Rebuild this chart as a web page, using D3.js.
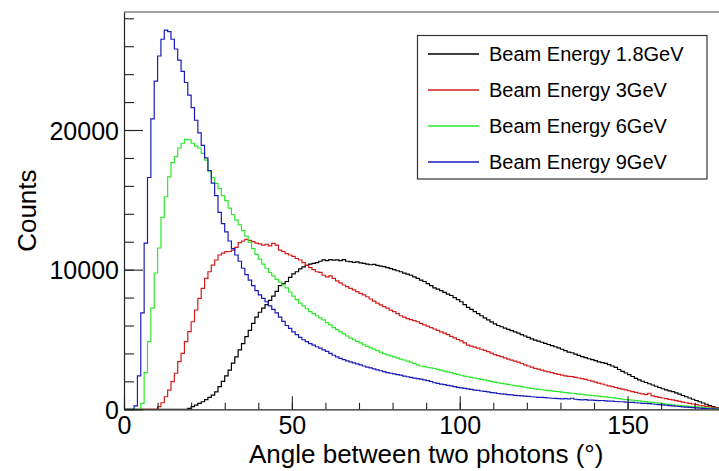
<!DOCTYPE html>
<html>
<head>
<meta charset="utf-8">
<script src="https://cdn.jsdelivr.net/npm/d3@7"></script>
<style>
  html, body { margin: 0; padding: 0; background: #fff; }
  svg { display: block; }
  text { font-family: "Liberation Sans", Arimo, Arial, Helvetica, sans-serif; fill: #000; }
</style>
</head>
<body>
<svg id="chart" width="719" height="471"></svg>
<script>
// ---- data ----
const binLow = 0, binWidth = 1;           // histogram binning (degrees)
const xDomain = [0, 180];
const yDomain = [0, 28450];
const xTicks = [0, 50, 100, 150];
const xMinorTicks = d3.range(0, 181, 10);
const yTicks = [0, 10000, 20000];
const yMinorTicks = d3.range(0, 28001, 2000);
const xTitle = "Angle between two photons (°)";
const yTitle = "Counts";
const seriesLabels = ["Beam Energy 1.8GeV", "Beam Energy 3GeV", "Beam Energy 6GeV", "Beam Energy 9GeV"];
const seriesColors = ["#000000", "#d41c1c", "#2ee82e", "#1a1ab8"];

const counts18 = [
  0,0,0,0,0,0,0,0,0,0,
  0,0,0,0,0,0,0,0,0,60,
  190,300,420,540,700,850,1020,1250,1620,2000,
  2400,2800,3300,3750,4250,4700,5200,5650,6150,6600,
  6950,7250,7500,7800,8100,8450,8850,9000,9150,9450,
  9700,9850,10050,10200,10300,10400,10450,10500,10600,10700,
  10650,10720,10680,10700,10650,10720,10600,10570,10520,10560,
  10480,10450,10400,10350,10380,10300,10250,10210,10150,10080,
  10000,9920,9850,9750,9680,9600,9480,9380,9250,9150,
  9000,8850,8700,8600,8500,8380,8250,8150,8000,7850,
  7700,7500,7300,7150,7000,6850,6700,6550,6400,6260,
  6120,6000,5910,5820,5720,5630,5550,5450,5350,5250,
  5150,5050,4960,4880,4800,4720,4640,4560,4480,4400,
  4300,4200,4100,4050,3950,3860,3770,3700,3620,3560,
  3480,3400,3340,3290,3200,3100,3000,2850,2720,2600,
  2480,2350,2220,2100,2010,1920,1830,1740,1650,1560,
  1470,1390,1320,1260,1170,1080,990,900,810,720,
  630,540,450,360,270,190,110,40,0,0
];
const counts3 = [
  0,0,0,0,0,0,0,0,0,0,
  190,470,900,1380,1980,2580,3410,4010,4840,5560,
  6270,7110,7950,8660,9380,9850,10330,10690,11050,11190,
  11290,11300,11400,11600,11930,12050,12170,12100,12000,11900,
  11850,11760,11820,11700,11880,11750,11400,11300,11150,11050,
  10950,10800,10690,10500,10300,10150,10000,9850,9800,9600,
  9480,9550,9380,9200,9050,8900,8780,8660,8550,8420,
  8300,8200,8060,7900,7750,7600,7480,7350,7250,7100,
  7000,6850,6700,6600,6500,6420,6350,6270,6150,6050,
  5950,5850,5750,5650,5550,5450,5350,5220,5120,5000,
  4900,4750,4600,4530,4450,4380,4300,4220,4130,4020,
  3920,3850,3770,3680,3600,3520,3450,3380,3280,3180,
  3100,3020,2935,2870,2800,2740,2680,2620,2560,2500,
  2450,2400,2360,2335,2280,2240,2200,2150,2080,2020,
  1950,1880,1810,1740,1680,1620,1560,1500,1440,1390,
  1330,1270,1210,1150,1100,1050,1150,960,910,860,
  810,760,710,670,620,570,520,470,420,380,
  330,290,250,210,170,140,80,20,0,0
];
const counts6 = [
  0,0,0,0,0,430,2620,4840,7250,9760,
  11550,13750,15220,16650,17660,18090,18710,19050,19330,19290,
  19050,18850,18710,18330,17850,17010,16600,16180,15800,15300,
  14950,14400,13950,13550,13200,12800,12400,11950,11500,11100,
  10750,10400,10100,9800,9550,9300,9100,8900,8700,8400,
  8100,7850,7600,7400,7200,7000,6850,6700,6550,6400,
  6200,6050,5850,5700,5550,5400,5250,5100,4980,4870,
  4750,4620,4500,4400,4300,4200,4100,3980,3900,3820,
  3750,3680,3600,3530,3450,3380,3280,3180,3100,3060,
  3010,2970,2920,2860,2800,2740,2680,2620,2560,2500,
  2440,2380,2330,2280,2240,2190,2140,2100,2050,2000,
  1950,1900,1860,1820,1780,1740,1700,1660,1620,1580,
  1540,1500,1460,1430,1400,1370,1340,1320,1290,1260,
  1230,1200,1170,1150,1120,1090,1070,1040,1010,990,
  960,940,910,890,860,830,800,760,720,700,
  670,650,620,600,570,550,520,500,470,440,
  410,380,350,310,290,270,250,230,210,190,
  170,150,130,110,90,70,40,10,0,0
];
const counts9 = [
  0,0,0,250,2400,6900,11900,16600,20800,23500,
  25300,26500,27150,27050,26500,25800,25000,24200,23400,22500,
  21600,20700,19800,18900,18000,17100,16200,15300,14100,13300,
  12700,12050,11500,11050,10600,10100,9650,9250,8850,8500,
  8200,7950,7700,7400,7150,6900,6600,6300,6000,5800,
  5550,5350,5150,4980,4850,4700,4600,4480,4380,4250,
  4150,4000,3870,3760,3650,3560,3470,3400,3320,3250,
  3180,3100,3020,2960,2900,2820,2760,2700,2620,2580,
  2530,2480,2450,2380,2330,2290,2230,2200,2160,2110,
  2060,1990,1900,1850,1800,1760,1720,1680,1620,1570,
  1540,1500,1460,1420,1380,1350,1310,1280,1250,1200,
  1180,1130,1100,1080,1050,1030,1000,980,960,940,
  920,900,880,860,850,830,810,790,780,770,
  750,760,740,790,720,700,680,690,660,650,
  640,620,630,600,580,590,560,540,540,520,
  500,490,470,450,430,420,400,380,360,340,
  320,300,260,240,220,200,180,160,140,120,
  100,90,70,50,40,25,10,0,0,0
];
const seriesCounts = [counts18, counts3, counts6, counts9];

// ---- layout ----
const W = 719, H = 471;
const plot = { left: 124, top: 12, right: 728.3, bottom: 409.3 };

const svg = d3.select("#chart");
svg.append("rect").attr("width", W).attr("height", H).attr("fill", "#fff");

const x = d3.scaleLinear().domain(xDomain).range([plot.left, plot.right]);
const y = d3.scaleLinear().domain(yDomain).range([plot.bottom, plot.top]);

svg.append("defs").append("clipPath").attr("id", "clip")
  .append("rect").attr("x", plot.left).attr("y", plot.top - 2)
  .attr("width", plot.right - plot.left).attr("height", plot.bottom - plot.top + 2);

// histograms
const line = d3.line().x(d => x(d[0])).y(d => y(d[1])).curve(d3.curveStepAfter);
const gH = svg.append("g").attr("clip-path", "url(#clip)");
seriesCounts.forEach((arr, i) => {
  const pts = arr.map((v, k) => [binLow + k * binWidth, v]);
  pts.push([binLow + arr.length * binWidth, arr[arr.length - 1]]);
  gH.append("path").attr("d", line(pts))
    .attr("fill", "none").attr("stroke", seriesColors[i]).attr("stroke-width", 1.2);
});

// frame top line
svg.append("line").attr("x1", plot.left).attr("x2", W).attr("y1", plot.top).attr("y2", plot.top)
  .attr("stroke", "#444").attr("stroke-width", 1.2);

// y axis minor
svg.append("g").attr("transform", `translate(${plot.left},0)`)
  .call(d3.axisLeft(y).tickValues(yMinorTicks).tickSizeInner(-10).tickSizeOuter(0).tickFormat(""))
  .call(g => g.select(".domain").remove())
  .call(g => g.selectAll("line").attr("stroke", "#222").attr("stroke-width", 1.1));
// y axis major
svg.append("g").attr("transform", `translate(${plot.left},0)`)
  .call(d3.axisLeft(y).tickValues(yTicks).tickSizeInner(-19).tickSizeOuter(0).tickPadding(5).tickFormat(d3.format("d")))
  .call(g => g.select(".domain").attr("stroke", "#222").attr("stroke-width", 1.2))
  .call(g => g.selectAll("line").attr("stroke", "#222").attr("stroke-width", 1.1))
  .call(g => g.selectAll("text").attr("font-size", 25).attr("font-family", "Liberation Sans, Arial, sans-serif").attr("fill", "#000").attr("dy", "0.36em"));

// x axis minor
svg.append("g").attr("transform", `translate(0,${plot.bottom})`)
  .call(d3.axisBottom(x).tickValues(xMinorTicks).tickSizeInner(-6.5).tickSizeOuter(0).tickFormat(""))
  .call(g => g.select(".domain").remove())
  .call(g => g.selectAll("line").attr("stroke", "#222").attr("stroke-width", 1.1));
// x axis major
svg.append("g").attr("transform", `translate(0,${plot.bottom})`)
  .call(d3.axisBottom(x).tickValues(xTicks).tickSizeInner(-13).tickSizeOuter(0).tickPadding(7).tickFormat(d3.format("d")))
  .call(g => g.select(".domain").attr("stroke", "#222").attr("stroke-width", 1.2))
  .call(g => g.selectAll("line").attr("stroke", "#222").attr("stroke-width", 1.1))
  .call(g => g.selectAll("text").attr("font-size", 25).attr("font-family", "Liberation Sans, Arial, sans-serif").attr("fill", "#000"));

// axis titles
svg.append("text").attr("x", x(90)).attr("y", 463).attr("text-anchor", "middle")
  .attr("font-size", 26).text(xTitle);
svg.append("text").attr("transform", `translate(36,${(plot.top + plot.bottom) / 2}) rotate(-90)`)
  .attr("text-anchor", "middle").attr("font-size", 26).text(yTitle);

// legend
const lg = svg.append("g");
lg.append("rect").attr("x", 417.5).attr("y", 35.5).attr("width", 289.5).attr("height", 143.5)
  .attr("fill", "#fff").attr("stroke", "#333").attr("stroke-width", 1.2);
seriesLabels.forEach((lab, i) => {
  const cy = 54 + i * 36;
  lg.append("path").attr("d", `M428,${cy}H479`)
    .attr("fill", "none").attr("stroke", seriesColors[i]).attr("stroke-width", 1.6);
  lg.append("text").attr("x", 489).attr("y", cy).attr("dy", "0.36em")
    .attr("font-size", 20).text(lab);
});
</script>
</body>
</html>
